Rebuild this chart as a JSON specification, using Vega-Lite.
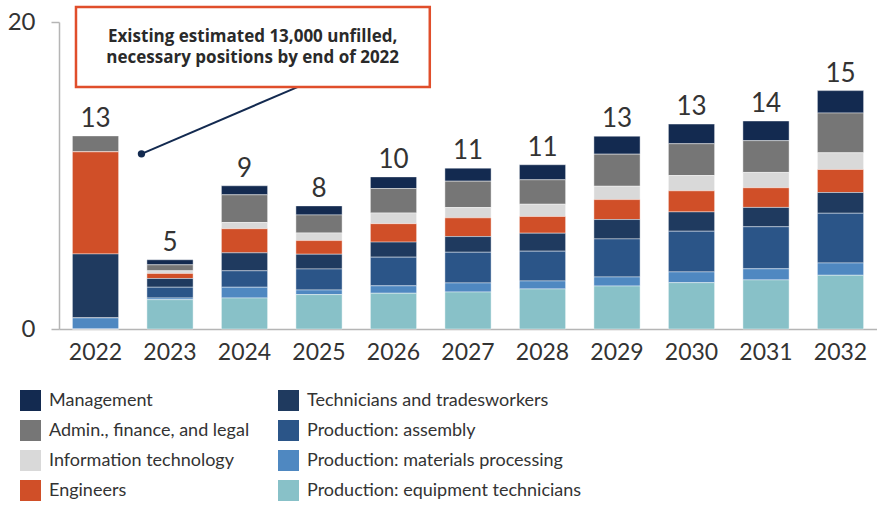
{
  "$schema": "https://vega.github.io/schema/vega-lite/v6.json",
  "autosize": {"type": "none"},
  "width": 818,
  "height": 307,
  "padding": {"left": 59, "top": 22, "right": 0, "bottom": 176},
  "background": "white",
  "config": {"view": {"stroke": null}, "font": "Lato"},
  "datasets": {
    "jobs": [
      {"year": "2022", "category": "Management", "value": 0},
      {"year": "2022", "category": "Admin., finance, and legal", "value": 1.04},
      {"year": "2022", "category": "Information technology", "value": 0},
      {"year": "2022", "category": "Engineers", "value": 6.65},
      {"year": "2022", "category": "Technicians and tradesworkers", "value": 4.17},
      {"year": "2022", "category": "Production: assembly", "value": 0},
      {"year": "2022", "category": "Production: materials processing", "value": 0.72},
      {"year": "2022", "category": "Production: equipment technicians", "value": 0},
      {"year": "2023", "category": "Management", "value": 0.33},
      {"year": "2023", "category": "Admin., finance, and legal", "value": 0.39},
      {"year": "2023", "category": "Information technology", "value": 0.17},
      {"year": "2023", "category": "Engineers", "value": 0.33},
      {"year": "2023", "category": "Technicians and tradesworkers", "value": 0.57},
      {"year": "2023", "category": "Production: assembly", "value": 0.7},
      {"year": "2023", "category": "Production: materials processing", "value": 0.11},
      {"year": "2023", "category": "Production: equipment technicians", "value": 1.91},
      {"year": "2024", "category": "Management", "value": 0.59},
      {"year": "2024", "category": "Admin., finance, and legal", "value": 1.8},
      {"year": "2024", "category": "Information technology", "value": 0.41},
      {"year": "2024", "category": "Engineers", "value": 1.57},
      {"year": "2024", "category": "Technicians and tradesworkers", "value": 1.17},
      {"year": "2024", "category": "Production: assembly", "value": 1.07},
      {"year": "2024", "category": "Production: materials processing", "value": 0.7},
      {"year": "2024", "category": "Production: equipment technicians", "value": 2.02},
      {"year": "2025", "category": "Management", "value": 0.59},
      {"year": "2025", "category": "Admin., finance, and legal", "value": 1.17},
      {"year": "2025", "category": "Information technology", "value": 0.5},
      {"year": "2025", "category": "Engineers", "value": 0.89},
      {"year": "2025", "category": "Technicians and tradesworkers", "value": 0.96},
      {"year": "2025", "category": "Production: assembly", "value": 1.37},
      {"year": "2025", "category": "Production: materials processing", "value": 0.3},
      {"year": "2025", "category": "Production: equipment technicians", "value": 2.24},
      {"year": "2026", "category": "Management", "value": 0.76},
      {"year": "2026", "category": "Admin., finance, and legal", "value": 1.59},
      {"year": "2026", "category": "Information technology", "value": 0.7},
      {"year": "2026", "category": "Engineers", "value": 1.2},
      {"year": "2026", "category": "Technicians and tradesworkers", "value": 0.98},
      {"year": "2026", "category": "Production: assembly", "value": 1.87},
      {"year": "2026", "category": "Production: materials processing", "value": 0.48},
      {"year": "2026", "category": "Production: equipment technicians", "value": 2.33},
      {"year": "2027", "category": "Management", "value": 0.85},
      {"year": "2027", "category": "Admin., finance, and legal", "value": 1.72},
      {"year": "2027", "category": "Information technology", "value": 0.67},
      {"year": "2027", "category": "Engineers", "value": 1.22},
      {"year": "2027", "category": "Technicians and tradesworkers", "value": 1.02},
      {"year": "2027", "category": "Production: assembly", "value": 2.0},
      {"year": "2027", "category": "Production: materials processing", "value": 0.59},
      {"year": "2027", "category": "Production: equipment technicians", "value": 2.41},
      {"year": "2028", "category": "Management", "value": 0.98},
      {"year": "2028", "category": "Admin., finance, and legal", "value": 1.59},
      {"year": "2028", "category": "Information technology", "value": 0.8},
      {"year": "2028", "category": "Engineers", "value": 1.09},
      {"year": "2028", "category": "Technicians and tradesworkers", "value": 1.17},
      {"year": "2028", "category": "Production: assembly", "value": 1.94},
      {"year": "2028", "category": "Production: materials processing", "value": 0.52},
      {"year": "2028", "category": "Production: equipment technicians", "value": 2.61},
      {"year": "2029", "category": "Management", "value": 1.17},
      {"year": "2029", "category": "Admin., finance, and legal", "value": 2.09},
      {"year": "2029", "category": "Information technology", "value": 0.87},
      {"year": "2029", "category": "Engineers", "value": 1.3},
      {"year": "2029", "category": "Technicians and tradesworkers", "value": 1.26},
      {"year": "2029", "category": "Production: assembly", "value": 2.48},
      {"year": "2029", "category": "Production: materials processing", "value": 0.59},
      {"year": "2029", "category": "Production: equipment technicians", "value": 2.8},
      {"year": "2030", "category": "Management", "value": 1.28},
      {"year": "2030", "category": "Admin., finance, and legal", "value": 2.07},
      {"year": "2030", "category": "Information technology", "value": 1.0},
      {"year": "2030", "category": "Engineers", "value": 1.37},
      {"year": "2030", "category": "Technicians and tradesworkers", "value": 1.26},
      {"year": "2030", "category": "Production: assembly", "value": 2.65},
      {"year": "2030", "category": "Production: materials processing", "value": 0.7},
      {"year": "2030", "category": "Production: equipment technicians", "value": 3.02},
      {"year": "2031", "category": "Management", "value": 1.28},
      {"year": "2031", "category": "Admin., finance, and legal", "value": 2.07},
      {"year": "2031", "category": "Information technology", "value": 1.0},
      {"year": "2031", "category": "Engineers", "value": 1.28},
      {"year": "2031", "category": "Technicians and tradesworkers", "value": 1.26},
      {"year": "2031", "category": "Production: assembly", "value": 2.74},
      {"year": "2031", "category": "Production: materials processing", "value": 0.72},
      {"year": "2031", "category": "Production: equipment technicians", "value": 3.2},
      {"year": "2032", "category": "Management", "value": 1.46},
      {"year": "2032", "category": "Admin., finance, and legal", "value": 2.59},
      {"year": "2032", "category": "Information technology", "value": 1.09},
      {"year": "2032", "category": "Engineers", "value": 1.5},
      {"year": "2032", "category": "Technicians and tradesworkers", "value": 1.35},
      {"year": "2032", "category": "Production: assembly", "value": 3.24},
      {"year": "2032", "category": "Production: materials processing", "value": 0.8},
      {"year": "2032", "category": "Production: equipment technicians", "value": 3.5}
    ],
    "labels": [
      {"year": "2022", "label": "13"},
      {"year": "2023", "label": "5"},
      {"year": "2024", "label": "9"},
      {"year": "2025", "label": "8"},
      {"year": "2026", "label": "10"},
      {"year": "2027", "label": "11"},
      {"year": "2028", "label": "11"},
      {"year": "2029", "label": "13"},
      {"year": "2030", "label": "13"},
      {"year": "2031", "label": "14"},
      {"year": "2032", "label": "15"}
    ],
    "box": [{"x": 0.228, "x2": 4.977, "y": 15.76, "y2": 20.98}],
    "note": [
      {"x": 2.6, "y": 19.02, "text": "Existing estimated 13,000 unfilled,"},
      {"x": 2.6, "y": 17.63, "text": "necessary positions by end of 2022"}
    ],
    "pointer": [{"x": 1.107, "x2": 3.2, "y": 11.41, "y2": 15.76}]
  },
  "layer": [
    {
      "layer": [
        {
          "data": {"name": "jobs"},
          "transform": [
            {"calculate": "indexof(['Production: equipment technicians','Production: materials processing','Production: assembly','Technicians and tradesworkers','Engineers','Information technology','Admin., finance, and legal','Management'], datum.category)", "as": "stackOrder"}
          ],
          "mark": {"type": "bar", "stroke": "#ffffff", "strokeWidth": 0.6, "strokeOpacity": 0.7},
          "encoding": {
            "x": {
              "field": "year", "type": "ordinal",
              "scale": {"paddingInner": 0.38, "paddingOuter": 0.18},
              "axis": {"title": null, "labelAngle": 0, "ticks": false, "labelFontSize": 23, "labelColor": "#333333", "labelPadding": 12, "domainColor": "#b5b5b5", "domainWidth": 1.5, "labelFont": "Lato"}
            },
            "y": {
              "field": "value", "type": "quantitative", "stack": "zero",
              "scale": {"domain": [0, 20], "nice": false},
              "axis": {"title": null, "values": [0, 20], "grid": false, "tickSize": 8, "tickColor": "#b5b5b5", "tickWidth": 1.5, "domainColor": "#b5b5b5", "domainWidth": 1.5, "labelFontSize": 24, "labelColor": "#333333", "labelPadding": 16, "labelFont": "Lato"}
            },
            "color": {
              "field": "category", "type": "nominal",
              "scale": {
                "domain": ["Management", "Admin., finance, and legal", "Information technology", "Engineers", "Technicians and tradesworkers", "Production: assembly", "Production: materials processing", "Production: equipment technicians"],
                "range": ["#132a50", "#767676", "#d9d9d9", "#d04f28", "#1f3a5f", "#2b5588", "#4f88c1", "#88c1c8"]
              },
              "legend": {
                "title": null, "orient": "none", "legendX": -39, "legendY": 368,
                "columns": 2, "symbolType": "square", "symbolSize": 441, "symbolStrokeWidth": 0,
                "labelFontSize": 18, "labelColor": "#333333", "labelFont": "Lato", "labelOffset": 8,
                "rowPadding": 9, "columnPadding": 28, "labelLimit": 400
              }
            },
            "order": {"field": "stackOrder", "type": "quantitative", "sort": "ascending"}
          }
        },
        {
          "data": {"name": "jobs"},
          "transform": [
            {"aggregate": [{"op": "sum", "field": "value", "as": "total"}], "groupby": ["year"]},
            {"lookup": "year", "from": {"data": {"name": "labels"}, "key": "year", "fields": ["label"]}}
          ],
          "mark": {"type": "text", "baseline": "alphabetic", "dy": -9, "fontSize": 26, "color": "#333333", "font": "Lato"},
          "encoding": {
            "x": {"field": "year", "type": "ordinal"},
            "y": {"field": "total", "type": "quantitative", "scale": {"domain": [0, 20], "nice": false}},
            "text": {"field": "label", "type": "nominal"}
          }
        }
      ]
    },
    {
      "data": {"name": "pointer"},
      "mark": {"type": "rule", "color": "#132a50", "strokeWidth": 2},
      "encoding": {
        "x": {"field": "x", "type": "quantitative", "scale": {"domain": [0, 10.98], "nice": false, "zero": false}, "axis": null},
        "x2": {"field": "x2"},
        "y": {"field": "y", "type": "quantitative", "scale": {"domain": [0, 20], "nice": false}},
        "y2": {"field": "y2"}
      }
    },
    {
      "data": {"name": "pointer"},
      "mark": {"type": "point", "filled": true, "opacity": 1, "size": 55, "color": "#132a50"},
      "encoding": {
        "x": {"field": "x", "type": "quantitative", "scale": {"domain": [0, 10.98], "nice": false, "zero": false}, "axis": null},
        "y": {"field": "y", "type": "quantitative", "scale": {"domain": [0, 20], "nice": false}}
      }
    },
    {
      "data": {"name": "box"},
      "mark": {"type": "rect", "fill": "#ffffff", "stroke": "#e04e2b", "strokeWidth": 2.5},
      "encoding": {
        "x": {"field": "x", "type": "quantitative", "scale": {"domain": [0, 10.98], "nice": false, "zero": false}, "axis": null},
        "x2": {"field": "x2"},
        "y": {"field": "y", "type": "quantitative", "scale": {"domain": [0, 20], "nice": false}},
        "y2": {"field": "y2"}
      }
    },
    {
      "data": {"name": "note"},
      "mark": {"type": "text", "fontWeight": "bold", "fontSize": 17, "color": "#2a2a2a", "font": "Open Sans", "baseline": "middle", "align": "center"},
      "encoding": {
        "x": {"field": "x", "type": "quantitative", "scale": {"domain": [0, 10.98], "nice": false, "zero": false}, "axis": null},
        "y": {"field": "y", "type": "quantitative", "scale": {"domain": [0, 20], "nice": false}},
        "text": {"field": "text", "type": "nominal"}
      }
    }
  ],
  "resolve": {"scale": {"x": "independent"}}
}
